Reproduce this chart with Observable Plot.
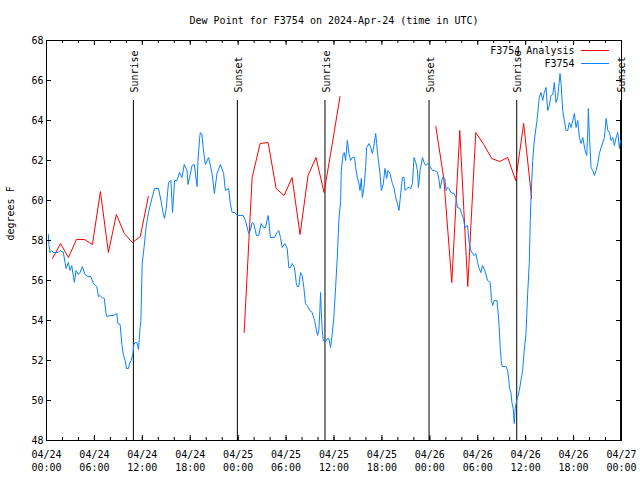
<!DOCTYPE html>
<html><head><meta charset="utf-8">
<script src="https://cdn.jsdelivr.net/npm/d3@7"></script>
<script src="https://cdn.jsdelivr.net/npm/@observablehq/plot@0.6"></script>
<style>body{margin:0;background:#fff} svg{display:block}</style>
</head><body><div id="chart"></div>
<script>
const title = "Dew Point for F3754 on 2024-Apr-24 (time in UTC)";
const yLabel = "degrees F";
const obsName = "F3754";
const anaName = "F3754 Analysis";

// observations: hours after 2024-04-24 00:00 UTC, dew point (F)
const obsHours = [0.23,0.29,0.44,0.65,0.85,1.07,1.44,1.69,2.11,2.32,2.45,2.74,2.95,3.16,3.49,3.70,3.99,4.20,4.49,4.83,5.21,5.55,5.87,6.30,6.50,6.71,6.93,7.25,7.43,7.55,7.97,8.34,8.81,8.93,9.22,9.44,9.64,9.85,10.01,10.26,10.39,10.60,10.82,10.94,11.10,11.32,11.52,11.73,11.82,11.98,12.23,12.48,12.77,13.20,13.53,14.03,14.33,14.58,14.78,14.99,15.28,15.58,15.78,16.04,16.34,16.66,16.96,17.25,17.59,17.72,18.0,18.22,18.51,18.85,18.97,19.17,19.26,19.47,19.60,19.89,20.30,20.73,21.02,21.35,21.77,22.18,22.40,22.81,23.02,23.24,23.56,23.86,24.28,24.62,24.91,25.32,25.53,25.75,25.95,26.29,26.57,26.88,27.13,27.42,27.75,27.83,28.04,28.54,28.88,29.08,29.30,29.51,29.84,30.14,30.34,30.55,30.77,31.05,31.27,31.39,31.59,31.81,32.02,32.22,32.43,32.72,32.97,33.27,33.56,33.81,33.94,34.10,34.23,34.32,34.40,34.53,34.66,34.94,35.16,35.36,35.57,35.78,35.98,36.20,36.41,36.61,36.83,36.91,37.16,37.29,37.45,37.67,37.87,38.08,38.29,38.58,38.71,38.92,39.12,39.25,39.42,39.55,39.75,39.96,40.09,40.38,40.59,40.80,41.00,41.22,41.34,41.51,41.76,41.93,42.18,42.38,42.60,42.76,43.01,43.31,43.51,43.73,43.94,44.14,44.35,44.57,44.77,44.89,45.11,45.40,45.61,45.82,46.02,46.24,46.45,46.57,46.78,47.08,47.28,47.49,47.78,48.03,48.33,48.62,48.96,49.16,49.28,49.59,49.87,50.04,50.21,50.41,50.63,51.04,51.26,51.47,51.79,51.97,52.22,52.38,52.72,52.92,53.14,53.35,53.55,53.76,53.98,54.18,54.39,54.60,54.89,55.23,55.56,55.73,55.86,56.06,56.40,56.56,56.69,56.81,56.94,57.06,57.53,57.74,57.87,57.99,58.16,58.28,58.44,58.57,58.69,58.87,59.00,59.20,59.41,59.62,59.82,60.04,60.25,60.45,60.58,60.67,60.88,61.08,61.42,61.71,61.92,62.13,62.33,62.55,62.76,62.96,63.17,63.39,63.59,63.80,64.01,64.30,64.43,64.64,64.84,65.06,65.27,65.47,65.68,65.90,66.10,66.31,66.52,66.73,66.94,67.15,67.44,67.65,67.78,67.85,67.98,68.19,68.41,68.61,68.82,69.03,69.23,69.45,69.66,69.86,70.08,70.29,70.49,70.70,70.91,71.11,71.33,71.54,71.74,71.87];
const obsValues = [58.3,57.8,57.4,57.5,57.4,57.4,57.4,57.5,57.4,56.9,56.6,56.9,56.5,56.75,55.9,56.5,56.3,56.4,56.7,56.3,56.2,56.2,55.85,55.7,55.2,55.25,55.15,55.1,54.4,54.2,54.25,54.25,54.35,53.85,53.8,52.8,52.25,52.0,51.6,51.6,51.85,52.0,52.35,52.8,52.9,52.9,52.55,53.7,54.0,56.85,57.7,58.7,59.4,60.1,60.6,60.6,60.0,59.4,59.1,59.6,60.9,61.0,59.4,61.0,61.0,61.4,61.15,61.8,61.5,60.8,61.3,61.75,61.8,60.7,62.0,63.1,63.4,63.3,62.7,61.8,62.15,61.35,60.35,61.35,61.8,61.35,60.5,60.6,59.85,59.4,59.4,59.25,59.25,59.25,59.0,58.35,58.5,58.9,58.85,58.25,58.25,58.85,58.65,58.65,59.25,59.0,58.15,58.15,58.4,58.5,58.15,57.65,57.85,57.6,56.65,56.65,56.85,56.65,55.9,55.7,55.7,56.4,56.25,55.65,54.85,54.7,54.5,54.4,54.0,53.5,53.25,53.5,54.5,55.4,54.5,53.5,53.0,52.95,53.1,53.1,52.65,53.35,54.15,55.65,57.15,59.0,60.0,61.5,62.35,62.4,62.0,63.0,62.35,62.0,62.15,62.15,61.65,61.15,60.85,60.5,61.1,60.15,60.65,61.65,62.65,62.85,62.65,62.35,62.75,63.35,62.85,62.15,61.35,60.5,60.85,61.6,61.1,61.5,61.35,60.85,60.65,60.15,59.85,59.5,60.35,61.15,61.15,60.5,60.6,60.65,60.6,60.85,62.15,61.9,61.5,60.65,61.5,62.15,61.9,61.75,61.85,61.7,61.5,61.5,61.4,61.0,60.6,61.15,61.1,60.5,60.65,60.6,60.4,60.35,60.15,59.65,59.6,59.35,59.1,58.65,58.75,57.9,57.5,57.35,57.25,57.35,56.9,56.6,56.4,56.75,56.5,56.0,55.9,55.0,54.75,55.0,55.0,54.35,53.65,52.65,52.0,51.7,51.7,51.5,51.1,50.6,50.4,49.9,49.6,48.85,49.6,50.0,50.15,50.5,51.0,51.5,52.5,53.35,55.35,56.85,59.0,60.15,62.0,63.0,64.0,65.15,65.4,65.0,65.4,65.65,64.5,64.75,65.25,65.3,65.9,64.9,65.15,66.35,65.85,64.5,64.0,63.5,63.5,63.9,63.65,64.0,64.35,63.65,64.0,63.15,62.85,63.15,62.5,62.25,63.5,64.6,63.2,61.65,61.5,61.25,61.5,61.85,62.35,62.65,62.9,63.15,64.1,63.5,63.4,63.0,63.15,62.75,63.15,63.4,62.6,63.0];

// analysis: hourly, null = missing
const anaHours = [0.75,1.75,2.75,3.75,4.75,5.75,6.75,7.75,8.75,9.75,10.75,11.75,12.75,13.75,24.75,25.75,26.75,27.75,28.75,29.75,30.75,31.75,32.75,33.75,34.75,35.75,36.75,37.75,48.75,49.75,50.75,51.75,52.75,53.75,54.75,55.75,56.75,57.75,58.75,59.75,60.75];
const anaValues = [57.1,57.85,57.15,58.05,58.05,57.8,60.45,57.4,59.3,58.35,57.9,58.2,60.2,null,53.4,61.15,62.85,62.9,60.6,60.25,61.15,58.3,61.25,62.15,60.4,62.75,65.2,null,63.7,61.1,55.9,63.5,55.7,63.4,62.8,62.1,61.95,62.15,61.0,63.85,60.1];

const eventHours = [10.88, 23.9, 34.87, 47.9, 58.88, 71.88];
const eventLabels = ["Sunrise","Sunset","Sunrise","Sunset","Sunrise","Sunset"];
const eventTop = 65;

const yDomain = [48, 68];
const yTicks = [48,50,52,54,56,58,60,62,64,66,68];
const xTickHours = [0,6,12,18,24,30,36,42,48,54,60,66,72];
const xMinorHours = [0,2,4,6,8,10,12,14,16,18,20,22,24,26,28,30,32,34,36,38,40,42,44,46,48,50,52,54,56,58,60,62,64,66,68,70,72];

const base = Date.UTC(2024, 3, 24);
const t = h => new Date(base + h * 3600000);
const obs = obsHours.map((h, i) => ({time: t(h), value: obsValues[i]}));
const ana = anaHours.map((h, i) => ({time: t(h), value: anaValues[i]}));
const events = eventHours.map((h, i) => ({time: t(h), label: eventLabels[i]}));
const xMajor = xTickHours.map(t);
const xMinor = xMinorHours.map(t);

const W = 640, H = 480, mL = 46, mR = 19, mT = 40, mB = 40;
const fw = W - mL - mR, fh = H - mT - mB;
const RED = "#ff0000", BLUE = "#0a80ff";
const font = "'DejaVu Sans Mono', 'Liberation Mono', monospace";

const chart = Plot.plot({
  width: W, height: H,
  marginLeft: mL, marginRight: mR, marginTop: mT, marginBottom: mB,
  style: {fontFamily: font, fontSize: "10px", background: "#fff", color: "#000"},
  x: {type: "utc", domain: [t(xTickHours[0]), t(xTickHours[xTickHours.length - 1])]},
  y: {domain: yDomain},
  marks: [
    Plot.ruleX(events, {x: "time", y1: yDomain[0], y2: eventTop, stroke: "#000", strokeWidth: 1}),
    Plot.text(events, {x: "time", y: eventTop, text: "label", rotate: -90, textAnchor: "start", dy: -8, dx: 1.5, fill: "#000"}),
    Plot.line(ana, {x: "time", y: "value", stroke: RED, strokeWidth: 1}),
    Plot.line(obs, {x: "time", y: "value", stroke: BLUE, strokeWidth: 1}),
    Plot.tickY(yTicks, {y: d => d, insetRight: fw - 5, stroke: "#000"}),
    Plot.tickY(yTicks, {y: d => d, insetLeft: fw - 5, stroke: "#000"}),
    Plot.tickX(xMajor, {x: d => d, insetTop: fh - 5, stroke: "#000"}),
    Plot.tickX(xMajor, {x: d => d, insetBottom: fh - 5, stroke: "#000"}),
    Plot.tickX(xMinor, {x: d => d, insetTop: fh - 3, stroke: "#000"}),
    Plot.tickX(xMinor, {x: d => d, insetBottom: fh - 3, stroke: "#000"}),
    Plot.axisY(yTicks, {anchor: "left", tickSize: 0, tickPadding: 3, label: null}),
    Plot.axisX(xMajor, {anchor: "bottom", tickSize: 0, tickPadding: 8, label: null, lineHeight: 1.3, tickFormat: d3.utcFormat("%m/%d\n%H:%M")}),
    Plot.frame({stroke: "#000"}),
    Plot.text([yLabel], {text: d => d, frameAnchor: "left", dx: -36, rotate: -90, fill: "#000"}),
    Plot.text([title], {text: d => d, frameAnchor: "top", dy: -24, fill: "#000"}),
    Plot.text([anaName], {text: d => d, frameAnchor: "top-right", dx: -47, dy: 6, textAnchor: "end", fill: "#000"}),
    Plot.text([obsName], {text: d => d, frameAnchor: "top-right", dx: -47, dy: 19, textAnchor: "end", fill: "#000"})
  ]
});

const svg = d3.select(chart);
const fx2 = W - mR;
[[RED, mT + 10], [BLUE, mT + 23]].forEach(([c, y]) => {
  svg.append("line").attr("x1", fx2 - 40).attr("x2", fx2 - 12)
    .attr("y1", y + 0.5).attr("y2", y + 0.5).attr("stroke", c).attr("stroke-width", 1);
});
document.getElementById("chart").appendChild(chart);
</script>
</body></html>
